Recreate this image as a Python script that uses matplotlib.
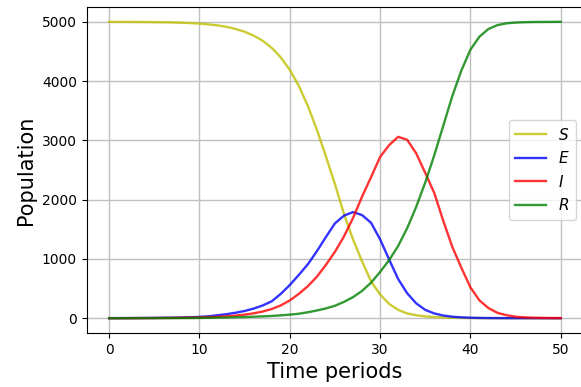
import numpy as np
import matplotlib
matplotlib.use("Agg")
import matplotlib.pyplot as plt

# --- data (one value per time period) ---
t = list(range(51))

S = [5000, 4999, 4999, 4998, 4997, 4995, 4993, 4990, 4985, 4979,
     4970, 4957, 4940, 4915, 4880, 4833, 4768, 4680, 4560, 4400,
     4190, 3920, 3580, 3180, 2730, 2260, 1760, 1330, 960, 620,
     400, 240, 140, 80, 50, 30, 20, 13, 8, 5,
     3, 2, 1, 1, 0, 0, 0, 0, 0, 0, 0]

E = [1, 1.5, 2, 3, 4, 5, 7, 9, 12, 16,
     22, 32, 50, 68, 92, 122, 162, 215, 285, 410,
     560, 730, 910, 1130, 1370, 1600, 1730, 1790, 1740, 1610,
     1330, 990, 660, 420, 250, 140, 80, 45, 25, 14,
     8, 4, 2.5, 1.5, 1, 0.5, 0.5, 0, 0, 0, 0]

I = [0, 0.5, 1, 1.5, 2, 3, 4, 5, 7, 9,
     12, 17, 23, 32, 44, 60, 82, 112, 155, 215,
     300, 410, 540, 700, 900, 1120, 1380, 1690, 2050, 2380,
     2720, 2920, 3060, 3010, 2780, 2450, 2110, 1640, 1200, 850,
     520, 300, 170, 90, 50, 25, 14, 8, 5, 3, 2]

R = [0, 0, 0, 0.5, 1, 1, 1.5, 2, 3, 3.5,
     5, 6, 9, 11, 15, 19, 25, 31, 38, 48,
     60, 75, 100, 130, 165, 210, 275, 355, 460, 600,
     780, 980, 1220, 1520, 1880, 2290, 2750, 3250, 3750, 4180,
     4530, 4750, 4880, 4945, 4975, 4988, 4994, 4997, 4998, 4999, 5000]

fig = plt.figure(figsize=(5.81, 3.87), dpi=100)
ax = fig.add_axes([0.149, 0.1395, 0.855, 0.8424])

ax.plot(t, S, 'y', alpha=0.8, lw=1.7, label='$S$')
ax.plot(t, E, 'b', alpha=0.8, lw=1.7, label='$E$')
ax.plot(t, I, 'r', alpha=0.8, lw=1.7, label='$I$')
ax.plot(t, R, 'g', alpha=0.8, lw=1.7, label='$R$')

ax.set_xlabel('Time periods', fontsize=15)
ax.set_ylabel('Population', fontsize=15)
ax.tick_params(labelsize=10)
ax.grid(True, color='#c0c0c0', lw=1)
ax.legend(loc='center right', fontsize=11)

fig.savefig('out.png', dpi=100)
